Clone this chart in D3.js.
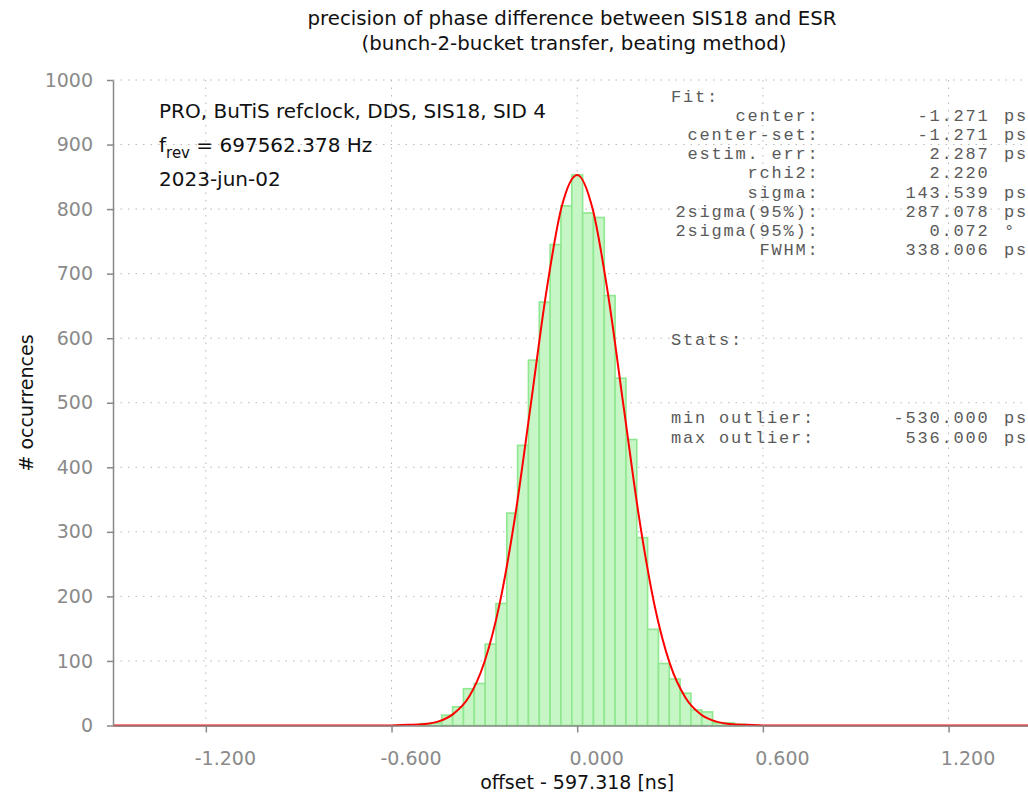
<!DOCTYPE html>
<html>
<head>
<meta charset="utf-8">
<script src="https://cdn.jsdelivr.net/npm/d3@7"></script>
<style>
  body { margin: 0; background: #fff; }
  svg { display: block; font-family: 'DejaVu Sans', sans-serif; }
</style>
</head>
<body>
<script>
// histogram bins (centre of bin, ns) and counts
var binWidth = 0.035;
var binCenters = [-0.490, -0.455, -0.420, -0.385, -0.350, -0.315, -0.280, -0.245, -0.210, -0.175,
                  -0.140, -0.105, -0.070, -0.035, 0.000, 0.035, 0.070, 0.105, 0.140, 0.175,
                  0.210, 0.245, 0.280, 0.315, 0.350, 0.385, 0.420, 0.455, 0.490, 0.525];
var binCounts = [3, 4, 16, 29, 57, 65, 126, 189, 329, 434,
                 566, 656, 745, 805, 853, 794, 787, 666, 538, 443,
                 291, 149, 96, 72, 50, 24, 21, 4, 4, 2];

// red fit curve
var fitX = [-1.5, -0.65, -0.6, -0.55, -0.5, -0.45, -0.4, -0.35, -0.3, -0.25, -0.2, -0.15, -0.1, -0.05,
            0, 0.05, 0.1, 0.15, 0.2, 0.25, 0.3, 0.35, 0.4, 0.45, 0.5, 0.55, 0.6, 0.65, 1.5];
var fitY = [0, 0, 0, 1, 2, 6, 18, 44, 98, 190, 326, 497, 671, 804,
            853, 800, 667, 494, 322, 186, 95, 43, 17, 6, 2, 1, 0, 0, 0];

var xTicks = [-1.2, -0.6, 0, 0.6, 1.2];
var yTicks = [0, 100, 200, 300, 400, 500, 600, 700, 800, 900, 1000];

var titleLines = ['precision of phase difference between SIS18 and ESR',
                  '(bunch-2-bucket transfer, beating method)'];
var infoLines = ['PRO, BuTiS refclock, DDS, SIS18, SID 4', '= 697562.378 Hz', '2023-jun-02'];

var fitLabels = ['center:', 'center-set:', 'estim. err:', 'rchi2:', 'sigma:', '2sigma(95%):', '2sigma(95%):', 'FWHM:'];
var fitValues = ['-1.271', '-1.271', '2.287', '2.220', '143.539', '287.078', '0.072', '338.006'];
var fitUnits = ['ps', 'ps', 'ps', '', 'ps', 'ps', '°', 'ps'];
var statLabels = ['min outlier:', 'max outlier:'];
var statValues = ['-530.000', '536.000'];
var statUnits = ['ps', 'ps'];

var W = 1028, H = 793;
var svg = d3.select('body').append('svg')
  .attr('width', W)
  .attr('height', H);

var x = d3.scaleLinear().domain([-1.5, 1.5]).range([113, 1041.4]);
var y = d3.scaleLinear().domain([0, 1000]).range([725.5, 80]);

// grid
var grid = svg.append('g')
  .attr('stroke', '#b8b8b8')
  .attr('stroke-width', 1)
  .attr('stroke-dasharray', '1.5,6');
grid.selectAll('.hg').data(yTicks.filter(function(d) { return d > 0; }))
  .enter().append('line')
  .attr('x1', x(-1.5)).attr('x2', W)
  .attr('y1', function(d) { return y(d); })
  .attr('y2', function(d) { return y(d); });
grid.selectAll('.vg').data(xTicks)
  .enter().append('line')
  .attr('x1', function(d) { return x(d); })
  .attr('x2', function(d) { return x(d); })
  .attr('y1', y(1000)).attr('y2', y(0));

// bars
svg.append('g').selectAll('rect')
  .data(binCenters)
  .enter().append('rect')
  .attr('x', function(d) { return x(d - binWidth / 2); })
  .attr('width', function(d) { return x(d + binWidth / 2) - x(d - binWidth / 2); })
  .attr('y', function(d, i) { return y(binCounts[i]); })
  .attr('height', function(d, i) { return y(0) - y(binCounts[i]); })
  .attr('fill', '#c6f6c6')
  .attr('stroke', '#8fe88f')
  .attr('stroke-width', 1.6);

// fit
var line = d3.line()
  .x(function(d, i) { return x(fitX[i]); })
  .y(function(d) { return y(d); })
  .curve(d3.curveMonotoneX);
svg.append('path')
  .datum(fitY)
  .attr('d', line)
  .attr('fill', 'none')
  .attr('stroke', '#ff0000')
  .attr('stroke-width', 2);

// axes
var yAxis = d3.axisLeft(y).tickValues(yTicks).tickSize(6).tickSizeOuter(0).tickPadding(14)
  .tickFormat(d3.format('d'));
var xAxis = d3.axisBottom(x).tickValues(xTicks).tickSize(7).tickSizeOuter(0).tickPadding(19)
  .tickFormat(function(d) { return d.toFixed(3); });

var gy = svg.append('g').attr('transform', 'translate(' + x(-1.5) + ',0)').call(yAxis);
var gx = svg.append('g').attr('transform', 'translate(0,' + y(0) + ')').call(xAxis);
[gx, gy].forEach(function(g) {
  g.select('.domain').attr('stroke', '#888').attr('stroke-width', 1.5);
  g.selectAll('.tick line').attr('stroke', '#888').attr('stroke-width', 1.5);
  g.selectAll('.tick text')
    .attr('fill', '#8a8a8a')
    .style('font-size', '19px')
    .style('font-family', "'DejaVu Sans', sans-serif");
});
gx.selectAll('.tick text').attr('dx', 19);

// titles
svg.append('text')
  .attr('x', 572).attr('y', 25)
  .attr('text-anchor', 'middle')
  .style('font-size', '19.8px').attr('fill', '#111')
  .text(titleLines[0]);
svg.append('text')
  .attr('x', 574).attr('y', 50)
  .attr('text-anchor', 'middle')
  .style('font-size', '19.8px').attr('fill', '#111')
  .text(titleLines[1]);

svg.append('text')
  .attr('x', x(0)).attr('y', 789)
  .attr('text-anchor', 'middle')
  .style('font-size', '19px').attr('fill', '#111')
  .text('offset - 597.318 [ns]');

svg.append('text')
  .attr('transform', 'translate(33,403) rotate(-90)')
  .attr('text-anchor', 'middle')
  .style('font-size', '19px').attr('fill', '#111')
  .text('# occurrences');

// info text at top left
var info = svg.append('g').style('font-size', '20px').attr('fill', '#111');
info.append('text').attr('x', 159).attr('y', 118).text(infoLines[0]);
var f = info.append('text').attr('x', 159).attr('y', 152);
f.append('tspan').text('f');
f.append('tspan').attr('dy', 6).style('font-size', '15px').text('rev');
f.append('tspan').attr('dy', -6).text(' ' + infoLines[1]);
info.append('text').attr('x', 159).attr('y', 186).text(infoLines[2]);

// fit / stats block
var mono = svg.append('g')
  .style('font-family', "'Liberation Mono', 'Courier New', monospace")
  .style('font-size', '17px')
  .style('letter-spacing', '1.8px')
  .attr('fill', '#5a5a5a');
var rowY = function(i) { return 102 + i * 19.1; };
mono.append('text').attr('x', 671).attr('y', rowY(0)).text('Fit:');
fitLabels.forEach(function(l, i) {
  mono.append('text').attr('x', 819.5).attr('y', rowY(i + 1)).attr('text-anchor', 'end').text(l);
  mono.append('text').attr('x', 989.5).attr('y', rowY(i + 1)).attr('text-anchor', 'end').text(fitValues[i]);
  mono.append('text').attr('x', 1004).attr('y', rowY(i + 1)).text(fitUnits[i]);
});
mono.append('text').attr('x', 671).attr('y', 345).text('Stats:');
statLabels.forEach(function(l, i) {
  var yy = 423 + i * 19.5;
  mono.append('text').attr('x', 671).attr('y', yy).text(l);
  mono.append('text').attr('x', 989.5).attr('y', yy).attr('text-anchor', 'end').text(statValues[i]);
  mono.append('text').attr('x', 1004).attr('y', yy).text(statUnits[i]);
});
</script>
</body>
</html>
